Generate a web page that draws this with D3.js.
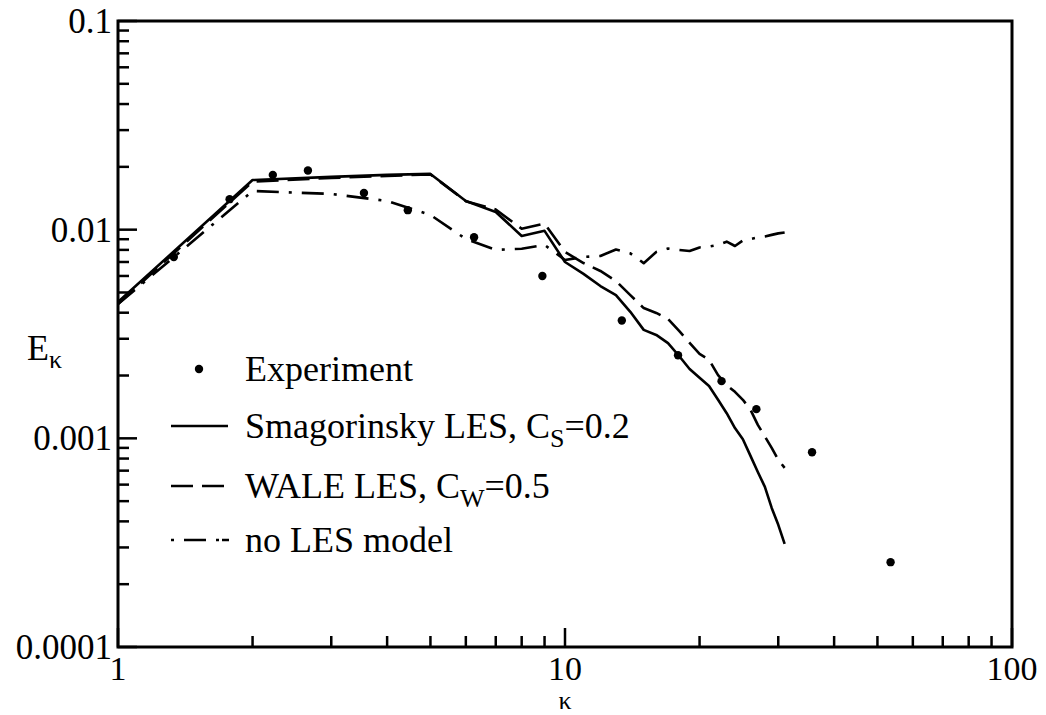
<!DOCTYPE html>
<html>
<head>
<meta charset="utf-8">
<script src="https://cdn.jsdelivr.net/npm/d3@7"></script>
<style>
  html, body { margin: 0; padding: 0; background: #fff; }
</style>
</head>
<body>
<svg id="chart" width="1046" height="715"></svg>
<script>
// ---- data ----
const simK = [1,2,3,4,5,6,7,8,9,10,11,12,13,14,15,16,17,18,19,20,21,22,23,24,25,26,27,28,29,30,31];
const smagorinsky = [0.0045,0.0173,0.0179,0.0183,0.0185,0.01373,0.01216,0.00933,0.00987,0.0070,0.00614,0.00537,0.00486,0.00404,0.00331,0.00313,0.00286,0.00248,0.00215,0.00195,0.00178,0.00153,0.00132,0.00112,0.00099,0.000824,0.00069,0.000585,0.000464,0.000385,0.000312];
const wale = [0.0044,0.0170,0.0177,0.0181,0.0184,0.0137,0.0125,0.0101,0.0107,0.00782,0.00692,0.00634,0.00568,0.00486,0.00421,0.00399,0.00373,0.00327,0.00287,0.00254,0.00238,0.00201,0.0018,0.00167,0.00153,0.00137,0.00116,0.00102,0.0009,0.000788,0.000722];
const noLES = [0.0044,0.01532,0.01483,0.01373,0.01176,0.00902,0.0080,0.0081,0.00845,0.00716,0.0074,0.00748,0.00803,0.0077,0.00691,0.00782,0.00812,0.0080,0.0079,0.00822,0.0083,0.00845,0.00876,0.00835,0.00887,0.00902,0.00918,0.00928,0.00944,0.0096,0.0097];
const expK = [1.333,1.777,2.22,2.66,3.55,4.45,6.26,8.9,13.4,17.9,22.4,26.8,35.7,53.5];
const expE = [0.0074,0.0140,0.0183,0.0192,0.0150,0.0124,0.0092,0.0060,0.00367,0.0025,0.00188,0.00138,0.000857,0.000255];
const xTicks = [1,10,100];
const xTickLabels = ["1","10","100"];
const yTicks = [0.0001,0.001,0.01,0.1];
const yTickLabels = ["0.0001","0.001","0.01","0.1"];
const legendLabels = ["Experiment","Smagorinsky LES, C","WALE LES, C","no LES model"];

// ---- layout ----
const FONT = "Liberation Serif, Times New Roman, Times, Nimbus Roman, Noto Serif, DejaVu Serif, serif";
const L = 118, R = 1012, T = 21, B = 647;
const svg = d3.select("#chart");
const x = d3.scaleLog().domain([1,100]).range([L,R]);
const y = d3.scaleLog().domain([0.0001,0.1]).range([B,T]);

const xMinor = [];
for (let d of [1,10]) for (let m=2;m<=9;m++) xMinor.push(d*m);
const yMinor = [];
for (let d of [0.0001,0.001,0.01]) for (let m=2;m<=9;m++) yMinor.push(+(d*m).toPrecision(3));

const ax = svg.append("g");
ax.selectAll("line.xmin").data(xMinor).enter().append("line")
  .attr("x1", d=>x(d)).attr("x2", d=>x(d)).attr("y1", B).attr("y2", B-11)
  .attr("stroke","#000").attr("stroke-width",2.5);
ax.selectAll("line.xmaj").data(xTicks).enter().append("line")
  .attr("x1", d=>x(d)).attr("x2", d=>x(d)).attr("y1", B).attr("y2", B-19)
  .attr("stroke","#000").attr("stroke-width",2.5);
ax.selectAll("line.ymin").data(yMinor).enter().append("line")
  .attr("y1", d=>y(d)).attr("y2", d=>y(d)).attr("x1", L).attr("x2", L+11)
  .attr("stroke","#000").attr("stroke-width",2.5);
ax.selectAll("line.ymaj").data(yTicks).enter().append("line")
  .attr("y1", d=>y(d)).attr("y2", d=>y(d)).attr("x1", L).attr("x2", L+19)
  .attr("stroke","#000").attr("stroke-width",2.5);
svg.append("rect").attr("x",L).attr("y",T).attr("width",R-L).attr("height",B-T)
  .attr("fill","none").attr("stroke","#000").attr("stroke-width",3);

// tick labels
svg.selectAll("text.xl").data(xTicks).enter().append("text")
  .style("font-family",FONT)
  .attr("x", d=>x(d)).attr("y", B+33).attr("text-anchor","middle")
  .attr("font-size",34).text((d,i)=>xTickLabels[i]);
svg.selectAll("text.yl").data(yTicks).enter().append("text")
  .style("font-family",FONT)
  .attr("x", L-6).attr("y", d=>y(d)+12).attr("text-anchor","end")
  .attr("font-size",35).text((d,i)=>yTickLabels[i]);

// axis titles
svg.append("text").style("font-family",FONT).attr("x", x(10)).attr("y", 709).attr("text-anchor","middle")
  .attr("font-size",26).text("κ");
const yt = svg.append("text").style("font-family",FONT).attr("x",27).attr("y",360).attr("font-size",36);
yt.append("tspan").text("E");
yt.append("tspan").attr("font-size",26).attr("dy",8).text("κ");

// curves
const line = d3.line().x(d=>x(d[0])).y(d=>y(d[1]));
const series = [
  {vals: smagorinsky, dash: null},
  {vals: wale, dash: "22,9"},
  {vals: noLES, dash: "22,10,3,10"}
];
series.forEach(s=>{
  svg.append("path").datum(simK.map((k,i)=>[k,s.vals[i]]))
    .attr("d", line).attr("fill","none").attr("stroke","#000")
    .attr("stroke-width",2.6).attr("stroke-linejoin","round")
    .attr("stroke-dasharray", s.dash);
});
svg.selectAll("circle.exp").data(expK.map((k,i)=>[k,expE[i]])).enter().append("circle")
  .attr("cx", d=>x(d[0])).attr("cy", d=>y(d[1])).attr("r",4.2).attr("fill","#000");

// legend
const lg = svg.append("g");
const rowsY = [369, 426, 486, 540];
lg.append("circle").attr("cx",199).attr("cy",rowsY[0]).attr("r",4.2).attr("fill","#000");
lg.append("line").attr("x1",171).attr("x2",228).attr("y1",rowsY[1]).attr("y2",rowsY[1])
  .attr("stroke","#000").attr("stroke-width",2.6);
lg.append("line").attr("x1",171).attr("x2",228).attr("y1",rowsY[2]).attr("y2",rowsY[2])
  .attr("stroke","#000").attr("stroke-width",2.6).attr("stroke-dasharray","22,9");
lg.append("line").attr("x1",171).attr("x2",229).attr("y1",rowsY[3]).attr("y2",rowsY[3])
  .attr("stroke","#000").attr("stroke-width",2.6).attr("stroke-dasharray","3,10,22,10,3");

const subs = [null, ["S","=0.2"], ["W","=0.5"], null];
legendLabels.forEach((lab,i)=>{
  const t = lg.append("text").style("font-family",FONT).attr("x",245).attr("y",rowsY[i]+12).attr("font-size",36);
  t.append("tspan").text(lab);
  if (subs[i]) {
    t.append("tspan").attr("font-size",26).attr("dy",9).text(subs[i][0]);
    t.append("tspan").attr("dy",-9).text(subs[i][1]);
  }
});
</script>
</body>
</html>
